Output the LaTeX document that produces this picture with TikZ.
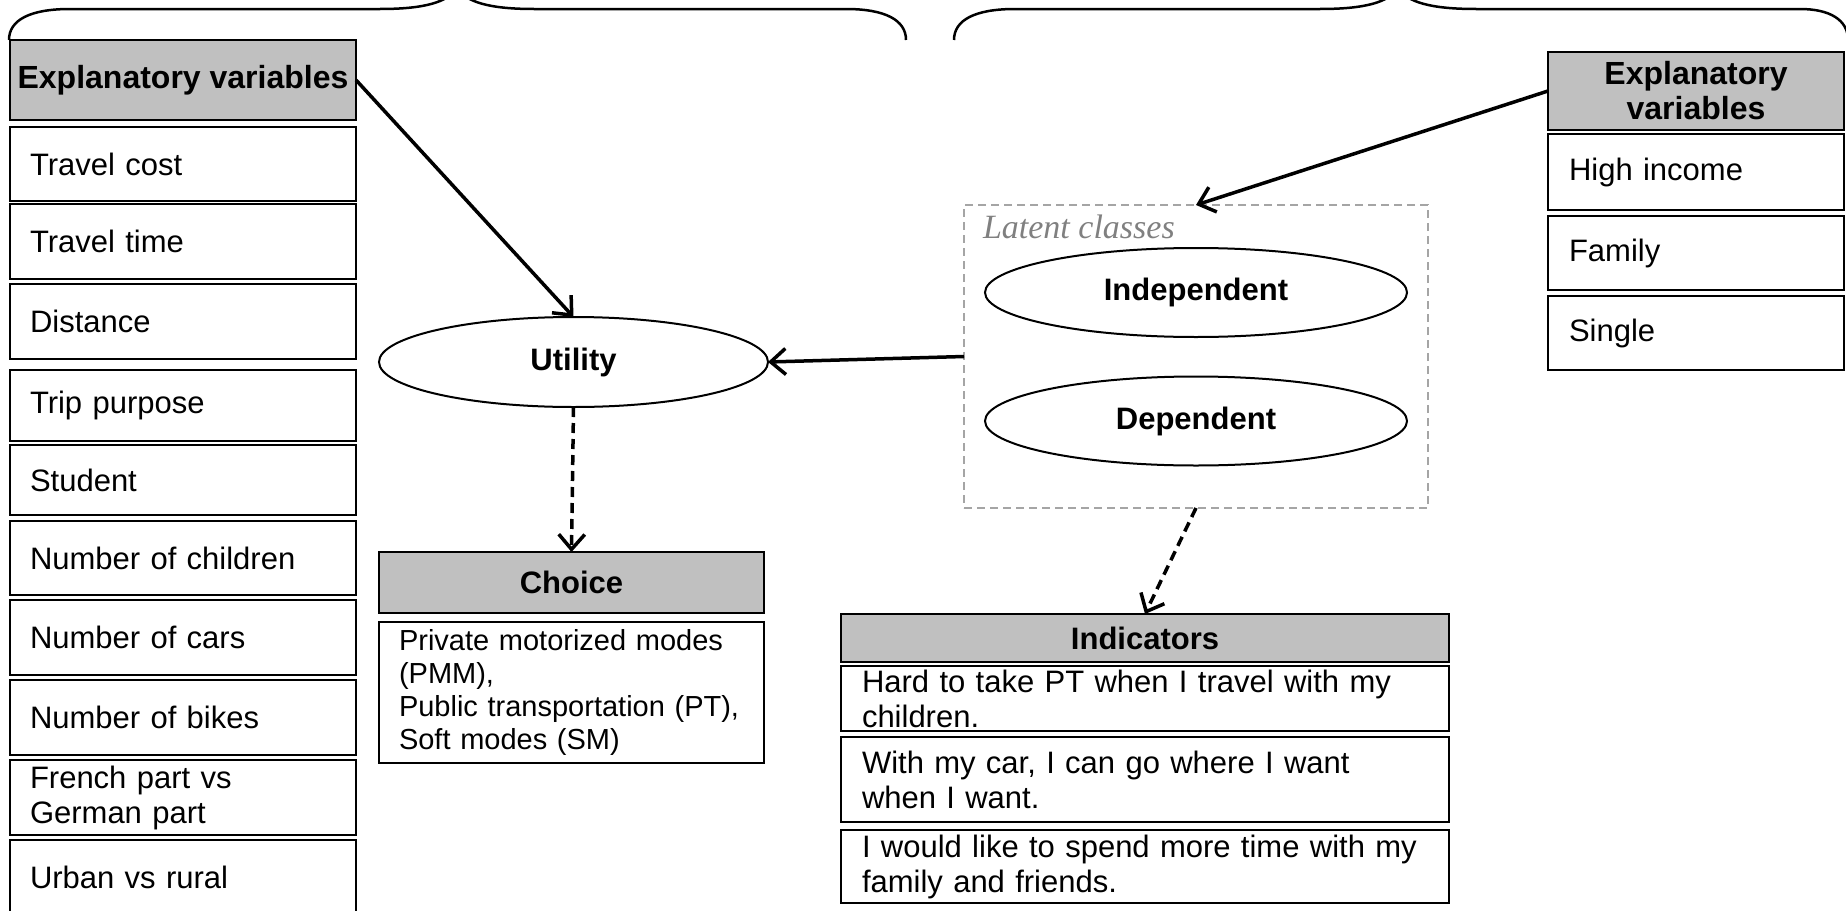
\documentclass[tikz,border=0pt]{standalone}
\usepackage{fontspec}
\setmainfont{Liberation Sans}
\newfontfamily\lcfont{Liberation Serif}
\usetikzlibrary{shapes.geometric,arrows.meta}

\definecolor{hdrgray}{RGB}{192,192,192}
\definecolor{latentgray}{RGB}{165,165,165}
\definecolor{labelgray}{RGB}{128,128,128}

\begin{document}
\begin{tikzpicture}[x=1pt,y=-1pt,
  every node/.style={inner sep=0pt, outer sep=0pt},
  cell/.style={draw, line width=2pt, fill=white, anchor=north west, align=left,
    inner xsep=20pt, font=\fontsize{31}{35}\selectfont},
  hdr/.style={draw, line width=2pt, fill=hdrgray, anchor=north west, align=center,
    font=\fontsize{32}{35}\selectfont\bfseries},
  oval/.style={draw, line width=2pt, ellipse, fill=white, minimum width=422pt,
    minimum height=89pt, font=\fontsize{31}{35}\selectfont\bfseries},
  link/.style={line width=3.5pt, -{Straight Barb[length=15pt,width=26pt]}},
  dlink/.style={link, dash pattern=on 10pt off 6pt},
  brace/.style={line width=2.5pt}
]
\useasboundingbox (0,0) rectangle (1846,910);
\clip (0,0) rectangle (1846,910);

% grouping braces along the top edge
\draw[brace] (9,40) .. controls (9,20) and (30,9) .. (70,9) -- (380,9)
  .. controls (425,9) and (448,2) .. (457,-12)
  .. controls (466,2) and (489,9) .. (534,9) -- (846,9)
  .. controls (885,9) and (906,20) .. (906,40);
\draw[brace] (954,40) .. controls (954,20) and (975,9) .. (1015,9) -- (1320,9)
  .. controls (1366,9) and (1389,2) .. (1398,-12)
  .. controls (1407,2) and (1430,9) .. (1476,9) -- (1800,9)
  .. controls (1830,9) and (1848,20) .. (1848,40);

% explanatory variables of the utility
\node[hdr, minimum width=346pt, minimum height=80pt] (lhdr) at (10,40) {Explanatory variables};
\node[cell, text width=306pt, minimum height=74pt] (tc)  at (10,127) {Travel cost};
\node[cell, text width=306pt, minimum height=75pt] (tt)  at (10,204) {Travel time};
\node[cell, text width=306pt, minimum height=75pt] (di)  at (10,284) {Distance};
\node[cell, text width=306pt, minimum height=71pt] (tp)  at (10,370) {Trip purpose};
\node[cell, text width=306pt, minimum height=70pt] (st)  at (10,445) {Student};
\node[cell, text width=306pt, minimum height=74pt] (nch) at (10,521) {Number of children};
\node[cell, text width=306pt, minimum height=75pt] (nca) at (10,600) {Number of cars};
\node[cell, text width=306pt, minimum height=75pt] (nbi) at (10,680) {Number of bikes};
\node[cell, text width=306pt, minimum height=75pt] (fg)  at (10,760) {French part vs\\German part};
\node[cell, text width=306pt, minimum height=74pt] (ur)  at (10,840) {Urban vs rural};

% utility and choice
\node[oval, minimum width=389pt, minimum height=90pt] (util) at (573.5,362) {Utility};
\node[hdr, minimum width=385pt, minimum height=61pt, font=\fontsize{31}{35}\selectfont\bfseries] (chdr) at (379,552) {Choice};
\node[cell, text width=345pt, inner xsep=20pt, minimum height=141pt,
  font=\fontsize{29}{33}\selectfont] (cbody) at (379,622)
  {\mbox{Private motorized modes}\\(PMM),\\\mbox{Public transportation (PT),}\\Soft modes (SM)};

% latent classes
\node[draw=latentgray, line width=1.5pt, dash pattern=on 8pt off 5pt, anchor=north west,
  minimum width=464pt, minimum height=303pt] (latent) at (964,205) {};
\node[anchor=base west, text=labelgray, font=\fontsize{34}{38}\lcfont\itshape] (lc) at (983,238) {Latent classes};
\node[oval] (indep) at (1196,292.5) {Independent};
\node[oval] (dep) at (1196,421) {Dependent};

% indicators
\node[hdr, minimum width=608pt, minimum height=48pt, font=\fontsize{31}{35}\selectfont\bfseries] (ihdr) at (841,614) {Indicators};
\node[cell, text width=566pt, inner xsep=21pt, minimum height=65pt] (ind1) at (841,666)
  {Hard to take PT when I travel with my\\children.};
\node[cell, text width=566pt, inner xsep=21pt, minimum height=85pt] (ind2) at (841,737)
  {With my car, I can go where I want\\when I want.};
\node[cell, text width=566pt, inner xsep=21pt, minimum height=73pt] (ind3) at (841,830)
  {I would like to spend more time with my\\family and friends.};

% explanatory variables of the class membership
\node[hdr, minimum width=296pt, minimum height=78pt] (rhdr) at (1548,52) {Explanatory\\variables};
\node[cell, text width=254pt, inner xsep=21pt, minimum height=76pt] (hi) at (1548,134) {High income};
\node[cell, text width=254pt, inner xsep=21pt, minimum height=74pt] (fa) at (1548,216) {Family};
\node[cell, text width=254pt, inner xsep=21pt, minimum height=74pt] (si) at (1548,296) {Single};

% connectors
\draw[link] (lhdr.east) -- (util.north);
\draw[link] (rhdr.west) -- (latent.north);
\draw[link] (latent.west) -- (util.east);
\draw[dlink] (util.south) -- (chdr.north);
\draw[dlink] (latent.south) -- (ihdr.north);
\end{tikzpicture}
\end{document}
